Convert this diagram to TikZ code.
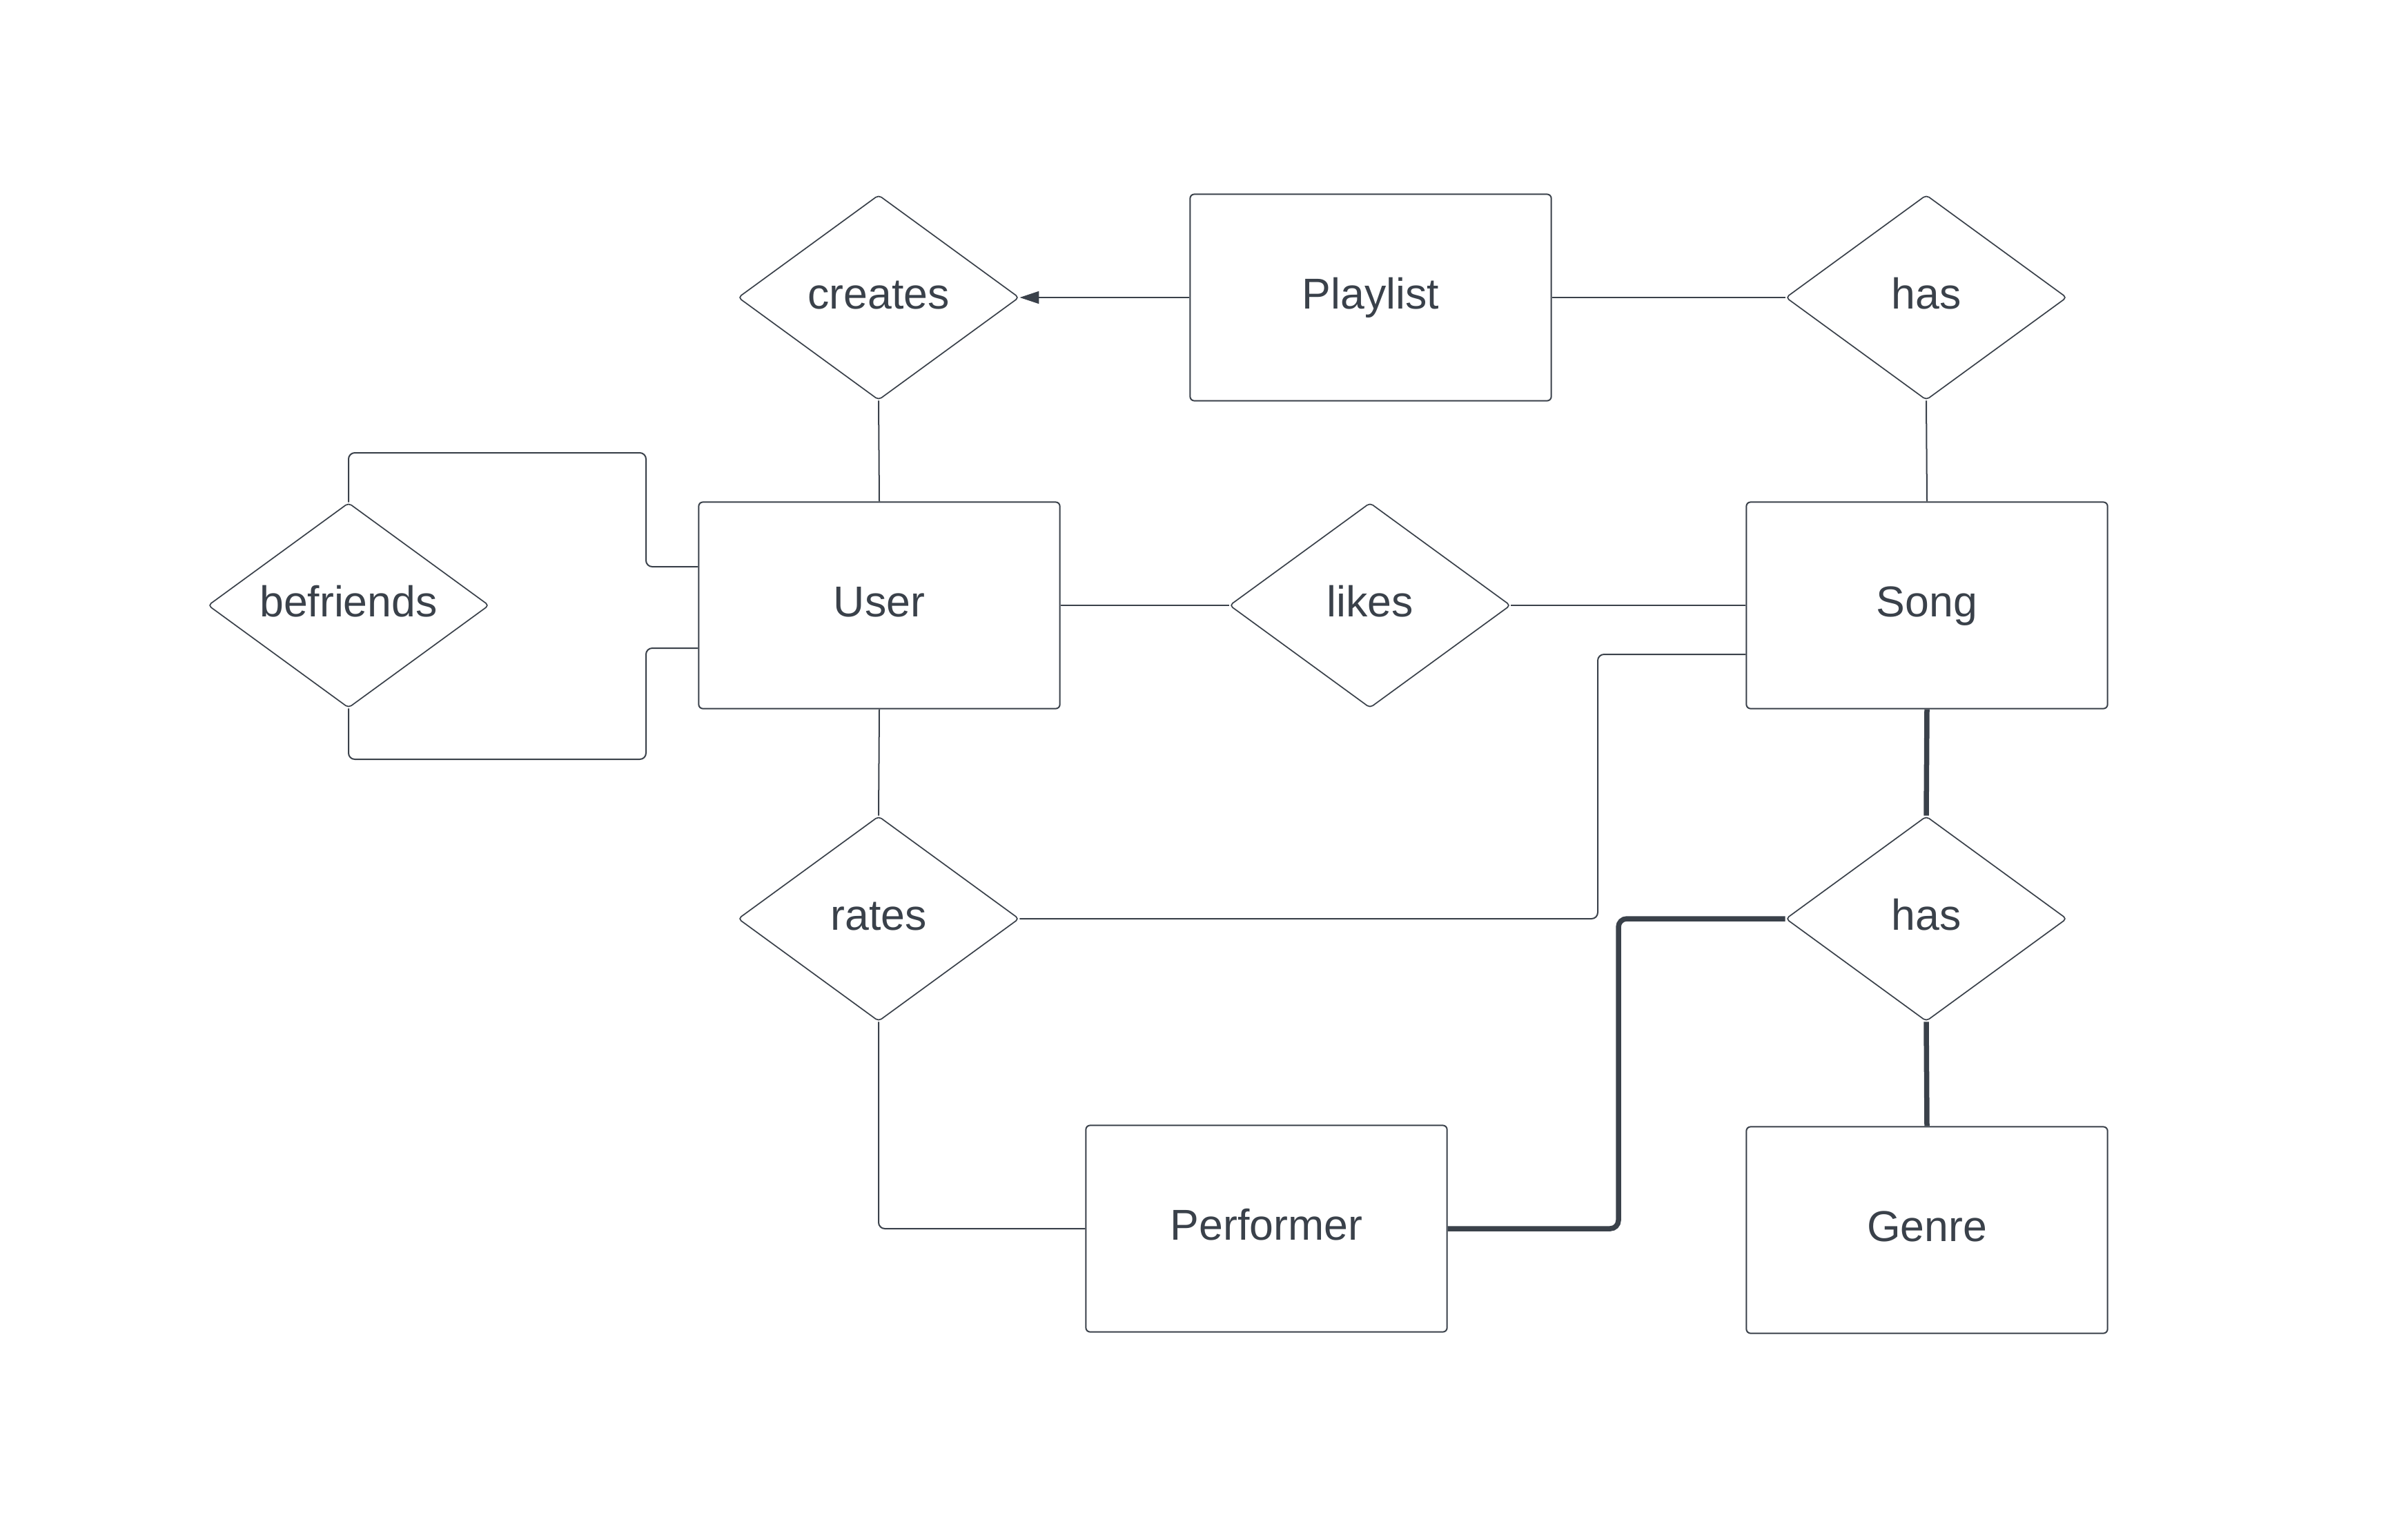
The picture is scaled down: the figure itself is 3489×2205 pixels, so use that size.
\documentclass[tikz,border=0pt]{standalone}
\usepackage{fontspec}
\setmainfont{Liberation Sans}
\usetikzlibrary{shapes.geometric,arrows.meta}
\definecolor{ink}{HTML}{3A414A}
\begin{document}
\begin{tikzpicture}[x=0.01cm,y=-0.01cm,
  label font/.style={text=ink, font=\fontsize{17.8}{21}\selectfont,
    text height=13pt, text depth=3.7pt},
  entity/.style={draw=ink, line width=0.02cm, rounded corners=0.06cm,
    minimum width=5.23cm, minimum height=2.99cm, inner sep=0pt, fill=white, label font},
  relation/.style={draw=ink, line width=0.017cm, diamond, aspect=1.377,
    minimum width=4.07cm, minimum height=2.97cm, inner sep=0pt, rounded corners=0.05cm,
    fill=white, label font},
  link/.style={draw=ink, line width=0.02cm, rounded corners=0.09cm},
  strong/.style={draw=ink, line width=0.075cm, rounded corners=0.12cm}]

% canvas
\fill[white] (0,0) rectangle (3489,2205);
\useasboundingbox (0,0) rectangle (3489,2205);

% entities
\node[entity] (playlist)  at (1986,431)  {Playlist};
\node[entity] (user)      at (1274,877)  {User};
\node[entity] (song)      at (2792,877)  {Song};
\node[entity] (performer) at (1835,1780) {Performer};
\node[entity] (genre)     at (2792,1782) {Genre};

% relationships
\node[relation] (creates)   at (1273,431)  {creates};
\node[relation] (hasP)      at (2791,431)  {has};
\node[relation] (befriends) at (505,877)   {befriends};
\node[relation] (likes)     at (1985,877)  {likes};
\node[relation] (rates)     at (1273,1331) {rates};
\node[relation] (hasG)      at (2791,1331) {has};

% bend points
\coordinate (fa) at (505,656);
\coordinate (fb) at (936,656);
\coordinate (fc) at (936,821);
\coordinate (fd) at (505,1100);
\coordinate (fe) at (936,1100);
\coordinate (ff) at (936,939);
\coordinate (ra) at (2315,1331);
\coordinate (rb) at (2315,948);
\coordinate (rc) at (1273,1780);
\coordinate (pa) at (2345,1331);
\coordinate (pb) at (2345,1780);

% connectors
\draw[link,-{Triangle[length=0.28cm,width=0.18cm]}] (playlist.west) -- (creates.east);
\draw[link] (playlist.east) -- (hasP.west);
\draw[link] (creates.south) -- (user.north);
\draw[link] (hasP.south) -- (song.north);
\draw[link] (user.east) -- (likes.west);
\draw[link] (likes.east) -- (song.west);
\draw[link] (user.south) -- (rates.north);
\draw[link] (befriends.north) -- (fa) -- (fb) -- (fc) -- (fc -| user.west);
\draw[link] (befriends.south) -- (fd) -- (fe) -- (ff) -- (ff -| user.west);
\draw[link] (rates.east) -- (ra) -- (rb) -- (rb -| song.west);
\draw[link] (rates.south) -- (rc) -- (performer.west);

% total participation
\draw[strong] (song.south) -- (hasG.north);
\draw[strong] (hasG.south) -- (genre.north);
\draw[strong] (hasG.west) -- (pa) -- (pb) -- (performer.east);
\end{tikzpicture}
\end{document}
